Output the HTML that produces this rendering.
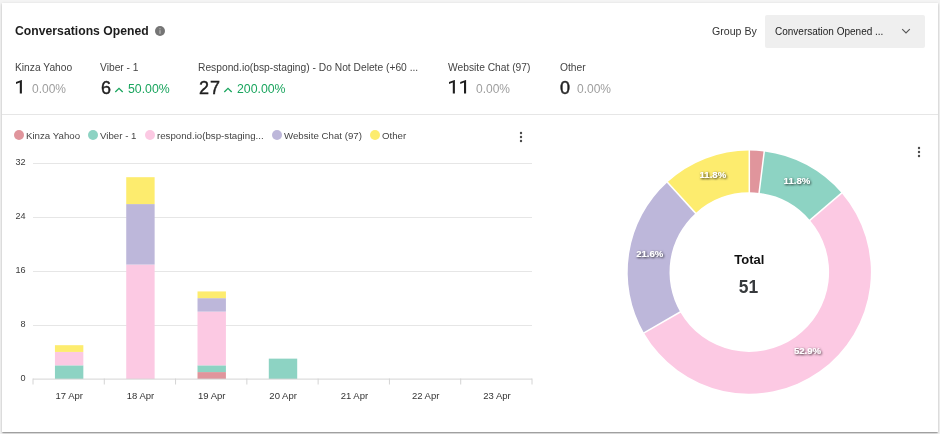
<!DOCTYPE html>
<html><head><meta charset="utf-8">
<style>
*{margin:0;padding:0;box-sizing:border-box}
html,body{width:940px;height:434px;overflow:hidden;background:#f4f4f4;font-family:"Liberation Sans",sans-serif}
.card{position:absolute;left:2px;top:3px;width:936px;height:429px;background:#fff;box-shadow:0 1px 3px 0 rgba(0,0,0,.2),0 1px 1px 0 rgba(0,0,0,.14),0 2px 1px -1px rgba(0,0,0,.12)}
.abs{position:absolute;white-space:nowrap;will-change:transform}
.title{left:15px;top:23px;font-size:12.2px;font-weight:bold;color:#1c1c1c;letter-spacing:0.02px;line-height:16px}
.gb{left:712px;top:24px;font-size:10.6px;color:#333;line-height:14px}
.dd{left:765px;top:15px;width:160px;height:33px;background:#efefef;border-radius:2px}
.ddt{left:775px;top:25px;font-size:10px;color:#222;line-height:13px}
.lab{font-size:10.25px;color:#444;line-height:13px;top:60.5px}
.big{font-size:18px;color:#1e1e1e;line-height:20px;top:77.7px;-webkit-text-stroke:0.45px #1e1e1e;letter-spacing:0.9px;margin-left:0.6px}
.pct{font-size:12px;color:#9e9e9e;line-height:14px;top:82px}
.grn{font-size:12.3px;color:#1aa55e;line-height:14px;top:82px}
.hr{left:2px;top:114px;width:936px;height:1px;background:#e6e6e6}
.leg{top:130px;font-size:9.7px;color:#444;line-height:12px}
.dot{top:130px;width:10px;height:10px;border-radius:50%}
</style></head><body>
<div class="card"></div>
<div class="abs title">Conversations Opened</div>
<svg class="abs" style="left:154px;top:25px" width="12" height="12" viewBox="0 0 12 12"><circle cx="6" cy="6" r="5" fill="#757575"/><rect x="5.4" y="5.2" width="1.2" height="3.6" fill="#b8b8b8"/><rect x="5.4" y="3.2" width="1.2" height="1.1" fill="#b8b8b8"/></svg>
<div class="abs gb">Group By</div>
<div class="abs dd"></div>
<div class="abs ddt">Conversation Opened ...</div>
<svg class="abs" style="left:901px;top:28px" width="10" height="6" viewBox="0 0 10 6"><path d="M1.2 1.2 L5 5 L8.8 1.2" fill="none" stroke="#555" stroke-width="1.1"/></svg>

<div class="abs lab" style="left:15px">Kinza Yahoo</div>
<svg class="abs" style="left:15.9px;top:80.1px" width="8" height="15" viewBox="0 0 8 15" fill="#1e1e1e"><path d="M3.80 2.5 L3.80 13.4 L5.90 13.4 L5.90 0 L5.60 0 L0.00 2.1 L0.00 3.9 Z"/></svg>
<div class="abs pct" style="left:32px">0.00%</div>

<div class="abs lab" style="left:100px">Viber - 1</div>
<div class="abs big" style="left:100px">6</div>
<svg class="abs" style="left:114px;top:85.7px" width="10" height="7" viewBox="0 0 10 7"><path d="M1.3 6 L5 2.3 L8.7 6" fill="none" stroke="#1aa55e" stroke-width="1.3"/></svg>
<div class="abs grn" style="left:128px">50.00%</div>

<div class="abs lab" style="left:198px">Respond.io(bsp-staging) - Do Not Delete (+60 ...</div>
<div class="abs big" style="left:198px">27</div>
<svg class="abs" style="left:223px;top:85.7px" width="10" height="7" viewBox="0 0 10 7"><path d="M1.3 6 L5 2.3 L8.7 6" fill="none" stroke="#1aa55e" stroke-width="1.3"/></svg>
<div class="abs grn" style="left:237px">200.00%</div>

<div class="abs lab" style="left:448px">Website Chat (97)</div>
<svg class="abs" style="left:449.1px;top:80.1px" width="20" height="15" viewBox="0 0 20 15" fill="#1e1e1e"><path d="M3.80 2.5 L3.80 13.4 L5.90 13.4 L5.90 0 L5.60 0 L0.00 2.1 L0.00 3.9 Z"/><path d="M15.00 2.5 L15.00 13.4 L17.10 13.4 L17.10 0 L16.80 0 L11.20 2.1 L11.20 3.9 Z"/></svg>
<div class="abs pct" style="left:476.4px">0.00%</div>

<div class="abs lab" style="left:560px">Other</div>
<div class="abs big" style="left:559.5px">0</div>
<div class="abs pct" style="left:577px">0.00%</div>

<div class="abs hr"></div>

<div class="abs dot" style="left:14px;background:#e0959c"></div><div class="abs leg" style="left:26px">Kinza Yahoo</div>
<div class="abs dot" style="left:88px;background:#8dd3c3"></div><div class="abs leg" style="left:100px">Viber - 1</div>
<div class="abs dot" style="left:145px;background:#fcc9e3"></div><div class="abs leg" style="left:157px">respond.io(bsp-staging...</div>
<div class="abs dot" style="left:272px;background:#bdb7da"></div><div class="abs leg" style="left:284px">Website Chat (97)</div>
<div class="abs dot" style="left:370px;background:#fdec6e"></div><div class="abs leg" style="left:382px">Other</div>

<svg class="abs" style="left:518px;top:131px" width="6" height="14" viewBox="0 0 6 14"><circle cx="3" cy="2" r="1.2" fill="#4a4a4a"/><circle cx="3" cy="6" r="1.2" fill="#4a4a4a"/><circle cx="3" cy="10" r="1.2" fill="#4a4a4a"/></svg>
<svg class="abs" style="left:916px;top:146px" width="6" height="14" viewBox="0 0 6 14"><circle cx="3" cy="2" r="1.2" fill="#4a4a4a"/><circle cx="3" cy="6" r="1.2" fill="#4a4a4a"/><circle cx="3" cy="10" r="1.2" fill="#4a4a4a"/></svg>

<svg class="abs" style="left:0;top:0" width="940" height="434" viewBox="0 0 940 434" font-family="Liberation Sans">
<g stroke="#e6e6e6" stroke-width="1"><line x1="33" y1="163.50" x2="532" y2="163.50"/><line x1="33" y1="217.50" x2="532" y2="217.50"/><line x1="33" y1="271.50" x2="532" y2="271.50"/><line x1="33" y1="325.50" x2="532" y2="325.50"/></g>
<rect x="54.94" y="365.36" width="28.4" height="13.64" fill="#8dd3c3"/><rect x="54.94" y="351.92" width="28.4" height="13.44" fill="#fcc9e3"/><rect x="54.94" y="345.20" width="28.4" height="6.72" fill="#fdec6e"/><rect x="126.23" y="264.56" width="28.4" height="114.44" fill="#fcc9e3"/><rect x="126.23" y="204.08" width="28.4" height="60.48" fill="#bdb7da"/><rect x="126.23" y="177.20" width="28.4" height="26.88" fill="#fdec6e"/><rect x="197.51" y="372.08" width="28.4" height="6.92" fill="#e0959c"/><rect x="197.51" y="365.36" width="28.4" height="6.72" fill="#8dd3c3"/><rect x="197.51" y="311.60" width="28.4" height="53.76" fill="#fcc9e3"/><rect x="197.51" y="298.16" width="28.4" height="13.44" fill="#bdb7da"/><rect x="197.51" y="291.44" width="28.4" height="6.72" fill="#fdec6e"/><rect x="268.80" y="358.64" width="28.4" height="20.36" fill="#8dd3c3"/>
<g stroke="#d4d4d4" stroke-width="1"><line x1="33" y1="379.1" x2="532" y2="379.1"/><line x1="33.00" y1="378.5" x2="33.00" y2="384.5"/><line x1="104.29" y1="378.5" x2="104.29" y2="384.5"/><line x1="175.57" y1="378.5" x2="175.57" y2="384.5"/><line x1="246.86" y1="378.5" x2="246.86" y2="384.5"/><line x1="318.14" y1="378.5" x2="318.14" y2="384.5"/><line x1="389.43" y1="378.5" x2="389.43" y2="384.5"/><line x1="460.71" y1="378.5" x2="460.71" y2="384.5"/><line x1="532.00" y1="378.5" x2="532.00" y2="384.5"/></g>
<g fill="#3a3a3a" font-size="9.1" text-anchor="end"><text x="25.6" y="165.46">32</text><text x="25.6" y="219.22">24</text><text x="25.6" y="272.98">16</text><text x="25.6" y="326.74">8</text><text x="25.6" y="380.50">0</text></g>
<g fill="#333" font-size="9.5" text-anchor="middle"><text x="69.24" y="399">17 Apr</text><text x="140.53" y="399">18 Apr</text><text x="211.81" y="399">19 Apr</text><text x="283.10" y="399">20 Apr</text><text x="354.39" y="399">21 Apr</text><text x="425.67" y="399">22 Apr</text><text x="496.96" y="399">23 Apr</text></g>
<path d="M749.30 150.50 A121.6 121.6 0 0 1 764.24 151.42 L759.11 192.90 A79.8 79.8 0 0 0 749.30 192.30 Z" fill="#e0959c"/><path d="M764.24 151.42 A121.6 121.6 0 0 1 841.64 192.98 L809.90 220.18 A79.8 79.8 0 0 0 759.11 192.90 Z" fill="#8dd3c3"/><path d="M841.64 192.98 A121.6 121.6 0 1 1 643.99 332.90 L680.19 312.00 A79.8 79.8 0 1 0 809.90 220.18 Z" fill="#fcc9e3"/><path d="M643.99 332.90 A121.6 121.6 0 0 1 667.38 182.24 L695.54 213.13 A79.8 79.8 0 0 0 680.19 312.00 Z" fill="#bdb7da"/><path d="M667.38 182.24 A121.6 121.6 0 0 1 749.30 150.50 L749.30 192.30 A79.8 79.8 0 0 0 695.54 213.13 Z" fill="#fdec6e"/><g stroke="#fff" stroke-width="1.5"><line x1="749.30" y1="193.30" x2="749.30" y2="149.50"/><line x1="758.98" y1="193.90" x2="764.37" y2="150.43"/><line x1="809.14" y1="220.83" x2="842.40" y2="192.33"/><line x1="681.06" y1="311.50" x2="643.13" y2="333.40"/><line x1="696.21" y1="213.87" x2="666.70" y2="181.50"/></g>
<g fill="#fff" font-size="9.6" font-weight="bold" text-anchor="middle" style="paint-order:stroke" filter="url(#sh)"><text x="796.94" y="183.58">11.8%</text><text x="807.48" y="354.49">52.9%</text><text x="649.79" y="256.85">21.6%</text><text x="712.92" y="178.40">11.8%</text></g>
<defs><filter id="sh" x="-50%" y="-50%" width="200%" height="200%"><feDropShadow dx="0.8" dy="0.8" stdDeviation="0.8" flood-color="#000" flood-opacity="0.9"/></filter></defs>
<text x="749.3" y="264" font-size="13" font-weight="bold" fill="#111" text-anchor="middle">Total</text>
<text x="748.4" y="293" font-size="19" font-weight="bold" fill="#373a3d" text-anchor="middle" textLength="19.4" lengthAdjust="spacingAndGlyphs">51</text>
</svg>
</body></html>
